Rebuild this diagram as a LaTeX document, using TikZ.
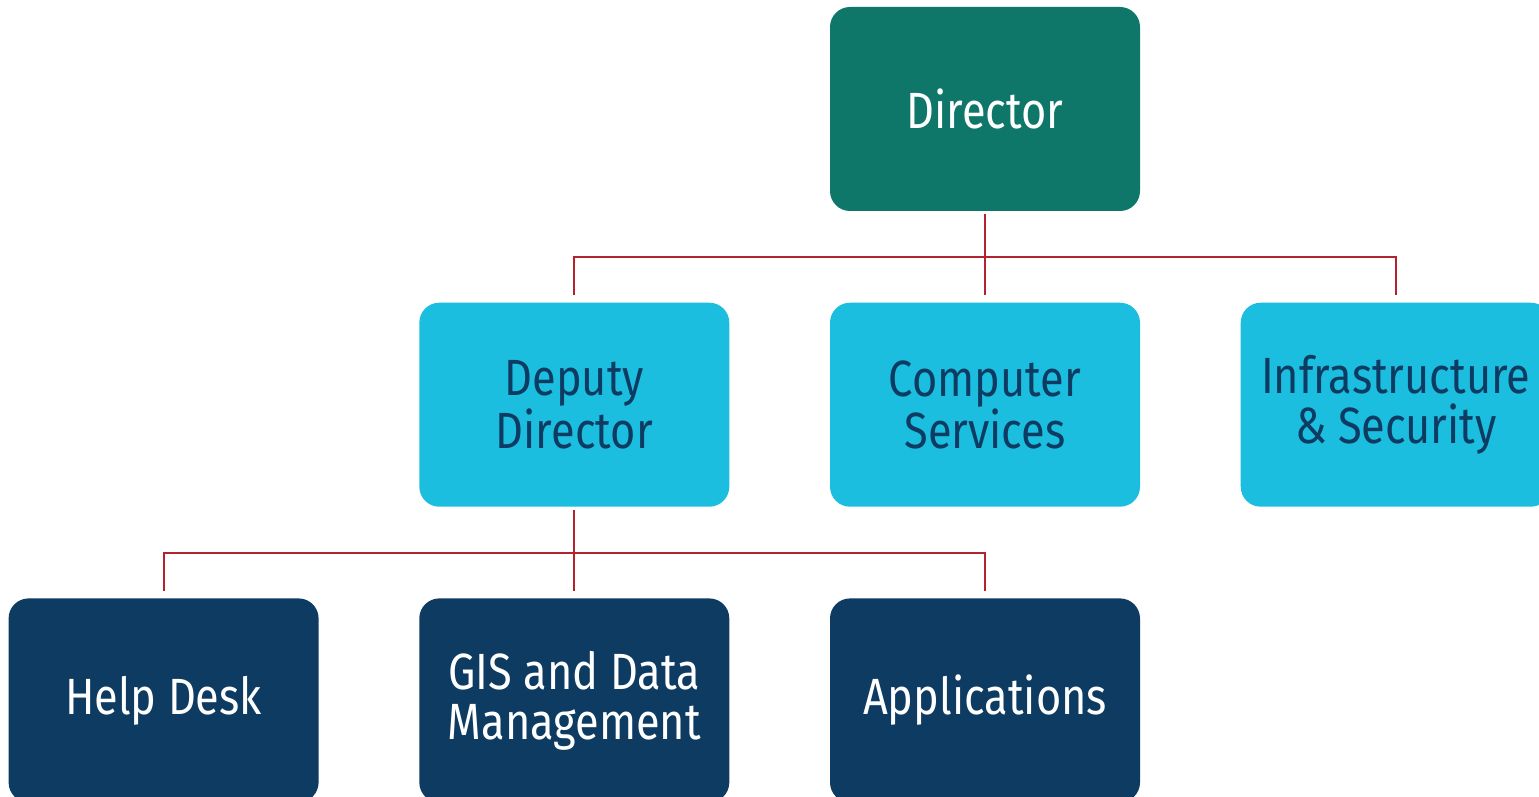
\documentclass[tikz,border=0pt]{standalone}
\usepackage{xcolor}
\usepackage{tikz}
\usepackage{fontspec}
\setmainfont{Fira Sans}[FakeStretch=0.85]
\usetikzlibrary{positioning, calc}
\definecolor{dirgreen}{RGB}{14, 119, 105}
\definecolor{unitblue}{RGB}{28, 190, 224}
\definecolor{teamnavy}{RGB}{13, 59, 98}
\definecolor{linkred}{RGB}{180, 35, 45}

\tikzset{
    box/.style={rounded corners=0.4cm, minimum width=6.2cm, minimum height=4.08cm, align=center, inner sep=0pt, font=\fontsize{29}{28.5}\selectfont},
    topbox/.style={box, fill=dirgreen, text=white},
    midbox/.style={box, fill=unitblue, text=teamnavy},
    lowbox/.style={box, fill=teamnavy, text=white},
    link/.style={draw=linkred, line width=1.1pt}
}

\begin{document}
\begin{tikzpicture}
    \useasboundingbox (0,0) rectangle (30.78,-15.94);
    \clip (0,0) rectangle (30.78,-15.94);
    \node[topbox] (dir) at (19.7,-2.18) {Director};
    \node[midbox, below = 1.82cm of dir] (comp) {Computer\\Services};
    \node[midbox, left = 2cm of comp] (dep) {Deputy\\Director};
    \node[midbox, right = 2cm of comp] (infra) {Infrastructure\\\& Security};
    \node[lowbox, below = 1.82cm of dep] (gis) {GIS and Data\\Management};
    \node[lowbox, left = 2cm of gis] (help) {Help Desk};
    \node[lowbox, right = 2cm of gis] (apps) {Applications};
    % director to units
    \coordinate (bus1) at ($(dir.south)!0.5!(comp.north)$);
    \draw[link, shorten <=0.06cm, shorten >=0.14cm] (dir) -- (comp);
    \draw[link, shorten <=0.14cm, shorten >=0.14cm] (dep.north) |- (bus1) -| (infra.north);
    % deputy to teams
    \coordinate (bus2) at ($(dep.south)!0.5!(gis.north)$);
    \draw[link, shorten <=0.06cm, shorten >=0.14cm] (dep) -- (gis);
    \draw[link, shorten <=0.14cm, shorten >=0.14cm] (help.north) |- (bus2) -| (apps.north);
\end{tikzpicture}
\end{document}
